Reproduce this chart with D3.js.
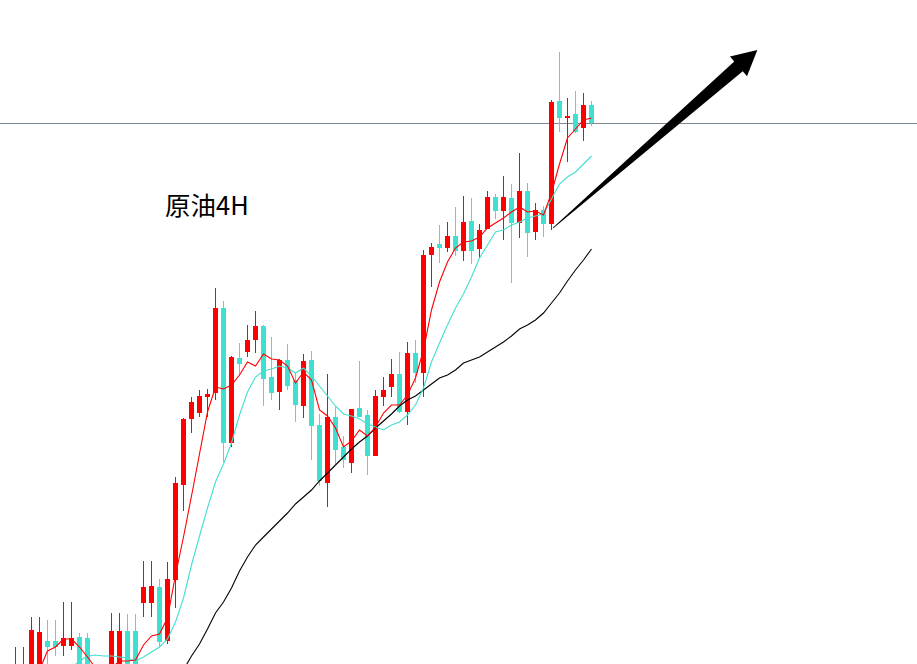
<!DOCTYPE html>
<html><head><meta charset="utf-8">
<script src="https://cdn.jsdelivr.net/npm/d3@7"></script>
<style>html,body{margin:0;padding:0;background:#fff;overflow:hidden}</style>
</head><body>
<svg id="chart" width="917" height="664"></svg>
<script>
// ---- data (crude oil, 4H bars) ----
const title = "原油4H";
const opens = [69.74,69.79,69.89,69.94,70.23,70.23,70.18,70.18,70.27,70.26,
69.84,69.59,69.84,69.86,70.33,70.33,70.61,70.61,70.77,70.23,
70.84,71.79,72.45,72.51,72.67,72.71,73.56,72.21,73.06,73.12,
73.24,73.38,72.87,72.72,73.04,72.84,72.58,73.04,72.39,71.81,
72.47,72.17,72.01,72.56,72.49,72.08,72.67,72.77,72.90,72.52,
73.11,72.91,74.09,74.20,74.16,74.28,74.13,74.43,74.15,74.35,
74.67,74.53,74.66,74.41,74.73,74.32,74.54,74.40,75.63,75.46,
75.50,75.36,75.59];
const highs = [70.17,70.17,70.47,70.47,70.44,70.44,70.62,70.62,70.31,70.31,
69.96,69.94,70.51,70.51,70.50,70.50,71.03,71.03,70.85,71.02,
71.87,72.46,72.67,72.74,72.75,73.76,73.63,73.08,73.21,73.39,
73.53,73.39,73.27,73.05,73.20,72.91,73.10,73.13,72.50,72.90,
72.57,72.28,72.55,73.03,72.54,72.74,72.87,73.05,73.12,73.22,
73.24,74.14,74.21,74.39,74.42,74.57,74.68,74.66,74.40,74.73,
74.70,74.88,74.80,75.11,74.81,74.61,74.58,75.64,76.12,75.66,
75.73,75.71,75.63];
const lows = [69.64,69.69,69.79,69.84,70.00,70.08,70.08,70.14,69.74,69.69,
69.54,69.52,69.74,69.76,69.79,69.78,70.47,70.47,70.17,70.20,
70.56,71.53,72.31,72.47,72.47,72.64,72.02,72.17,72.89,73.07,
73.11,72.58,72.64,72.54,72.74,72.42,72.46,72.04,71.78,71.57,
72.00,71.96,71.91,72.47,71.89,72.08,72.58,72.67,72.51,72.39,
72.81,72.67,73.77,74.01,74.12,74.08,74.03,74.00,74.06,74.35,
74.45,74.24,73.81,74.26,74.07,74.24,74.27,74.34,75.32,75.02,
75.31,75.23,75.38];
const closes = [69.96,69.96,70.34,70.32,70.17,70.17,70.26,70.26,69.84,69.79,
69.64,69.79,70.33,70.33,69.89,69.88,70.77,70.78,70.22,70.85,
71.81,72.45,72.62,72.68,72.70,73.56,72.21,73.07,73.00,73.24,
73.38,72.85,72.71,73.04,72.78,72.59,73.03,72.38,71.83,72.47,
72.14,72.04,72.55,72.47,72.08,72.68,72.74,72.90,72.52,73.11,
72.91,74.09,74.17,74.16,74.28,74.13,74.42,74.13,74.34,74.67,
74.53,74.67,74.41,74.73,74.31,74.54,74.40,75.62,75.46,75.48,
75.32,75.59,75.41];
const maFast = [null,null,69.82,69.94,70.13,70.17,70.25,70.25,70.17,70.07,
69.96,69.89,69.96,70.03,70.03,70.04,70.19,70.28,70.30,70.46,
70.89,71.27,71.68,72.10,72.52,72.77,72.75,72.79,72.89,73.02,
72.98,73.10,73.05,73.04,72.98,72.81,72.92,72.84,72.54,72.48,
72.36,72.17,72.23,72.34,72.28,72.37,72.51,72.59,72.59,72.69,
72.86,73.14,73.54,73.82,74.02,74.16,74.22,74.23,74.27,74.36,
74.41,74.46,74.52,74.57,74.52,74.53,74.49,74.71,75.00,75.26,
75.35,75.44,75.46];
const maMid = [null,null,null,null,null,null,null,69.96,70.03,70.08,
70.09,70.08,70.08,70.07,70.06,70.03,70.07,70.12,70.17,70.25,
70.42,70.66,70.99,71.28,71.56,71.82,72.00,72.21,72.49,72.72,
72.87,72.93,72.95,72.98,72.96,72.91,72.96,72.88,72.78,72.68,
72.58,72.50,72.48,72.45,72.40,72.37,72.34,72.39,72.42,72.49,
72.59,72.76,73.02,73.21,73.39,73.56,73.70,73.87,74.06,74.19,
74.32,74.34,74.39,74.42,74.46,74.48,74.50,74.65,74.80,74.87,
74.92,75.00,75.08];
const maSlow = [null,null,null,null,null,null,null,null,null,null,
null,null,null,null,null,null,null,null,null,null,
null,69.94,70.08,70.20,70.35,70.51,70.62,70.76,70.93,71.07,
71.19,71.27,71.35,71.43,71.51,71.60,71.67,71.74,71.83,71.91,
71.99,72.07,72.15,72.22,72.28,72.36,72.43,72.50,72.58,72.64,
72.68,72.74,72.80,72.86,72.89,72.94,73.01,73.04,73.07,73.12,
73.17,73.22,73.28,73.35,73.39,73.44,73.51,73.61,73.71,73.83,
73.94,74.04,74.15];
// annotation arrow: from bar index / price to bar index / price
const arrowFrom = [67.19, 74.36];
const arrowTo = [92.73, 76.14];

// ---- drawing ----
const W = 917, H = 664;
const UP = "#ff0000", DOWN = "#40e0d0";
const svg = d3.select("#chart");
svg.append("rect").attr("width", W).attr("height", H).attr("fill", "#fff");

const x = d3.scaleLinear().domain([0, 72]).range([15.5, 591.5]);
const y = d3.scaleLinear().domain([70, 76.64]).range([H, 0]);

const bars = d3.range(opens.length).map(i => ({
  i, o: opens[i], h: highs[i], l: lows[i], c: closes[i]
}));

// last price line
svg.append("line")
  .attr("x1", 0).attr("x2", W)
  .attr("y1", Math.round(y(closes[closes.length - 1])) + 0.5)
  .attr("y2", Math.round(y(closes[closes.length - 1])) + 0.5)
  .attr("stroke", "#7d8894").attr("stroke-width", 1);

const g = svg.append("g").attr("shape-rendering", "crispEdges");
const cg = g.selectAll("g.bar").data(bars).join("g").attr("class", "bar");
cg.append("line")
  .attr("x1", d => x(d.i)).attr("x2", d => x(d.i))
  .attr("y1", d => y(d.h)).attr("y2", d => y(d.l))
  .attr("stroke", d => d.c >= d.o ? UP : DOWN).attr("stroke-width", 1);
cg.append("rect")
  .attr("x", d => x(d.i) - 2.5)
  .attr("width", 5)
  .attr("y", d => y(Math.max(d.o, d.c)))
  .attr("height", d => Math.max(1, y(Math.min(d.o, d.c)) - y(Math.max(d.o, d.c))))
  .attr("fill", d => d.c >= d.o ? UP : DOWN);

function maLine(arr, color) {
  const line = d3.line()
    .defined(d => d != null)
    .x((d, i) => x(i))
    .y(d => y(d));
  svg.append("path").datum(arr)
    .attr("d", line)
    .attr("fill", "none")
    .attr("stroke", color)
    .attr("stroke-width", 1.1);
}
maLine(maSlow, "#000000");
maLine(maMid, "#40e0d0");
maLine(maFast, "#ff0000");

// arrow
(function () {
  const x0 = x(arrowFrom[0]), y0 = y(arrowFrom[1]);
  const x1 = x(arrowTo[0]), y1 = y(arrowTo[1]);
  const len = Math.hypot(x1 - x0, y1 - y0);
  const ux = (x1 - x0) / len, uy = (y1 - y0) / len;
  const nx = -uy, ny = ux;
  const headLen = 25, headHalf = 13, shaftHalf = 6.5, startHalf = 0.4;
  const bx = x1 - ux * headLen, by = y1 - uy * headLen;
  const pts = [
    [x0 + nx * startHalf, y0 + ny * startHalf],
    [bx + nx * shaftHalf, by + ny * shaftHalf],
    [bx + nx * headHalf, by + ny * headHalf],
    [x1, y1],
    [bx - nx * headHalf, by - ny * headHalf],
    [bx - nx * shaftHalf, by - ny * shaftHalf],
    [x0 - nx * startHalf, y0 - ny * startHalf]
  ];
  svg.append("path")
    .attr("d", "M" + pts.map(p => p.join(",")).join("L") + "Z")
    .attr("fill", "#000");
})();

svg.append("text")
  .attr("x", 165).attr("y", 215)
  .attr("font-family", "'Noto Sans CJK SC','Noto Sans',sans-serif")
  .attr("font-size", 25.5)
  .attr("fill", "#000")
  .text(title);
</script>
</body></html>
